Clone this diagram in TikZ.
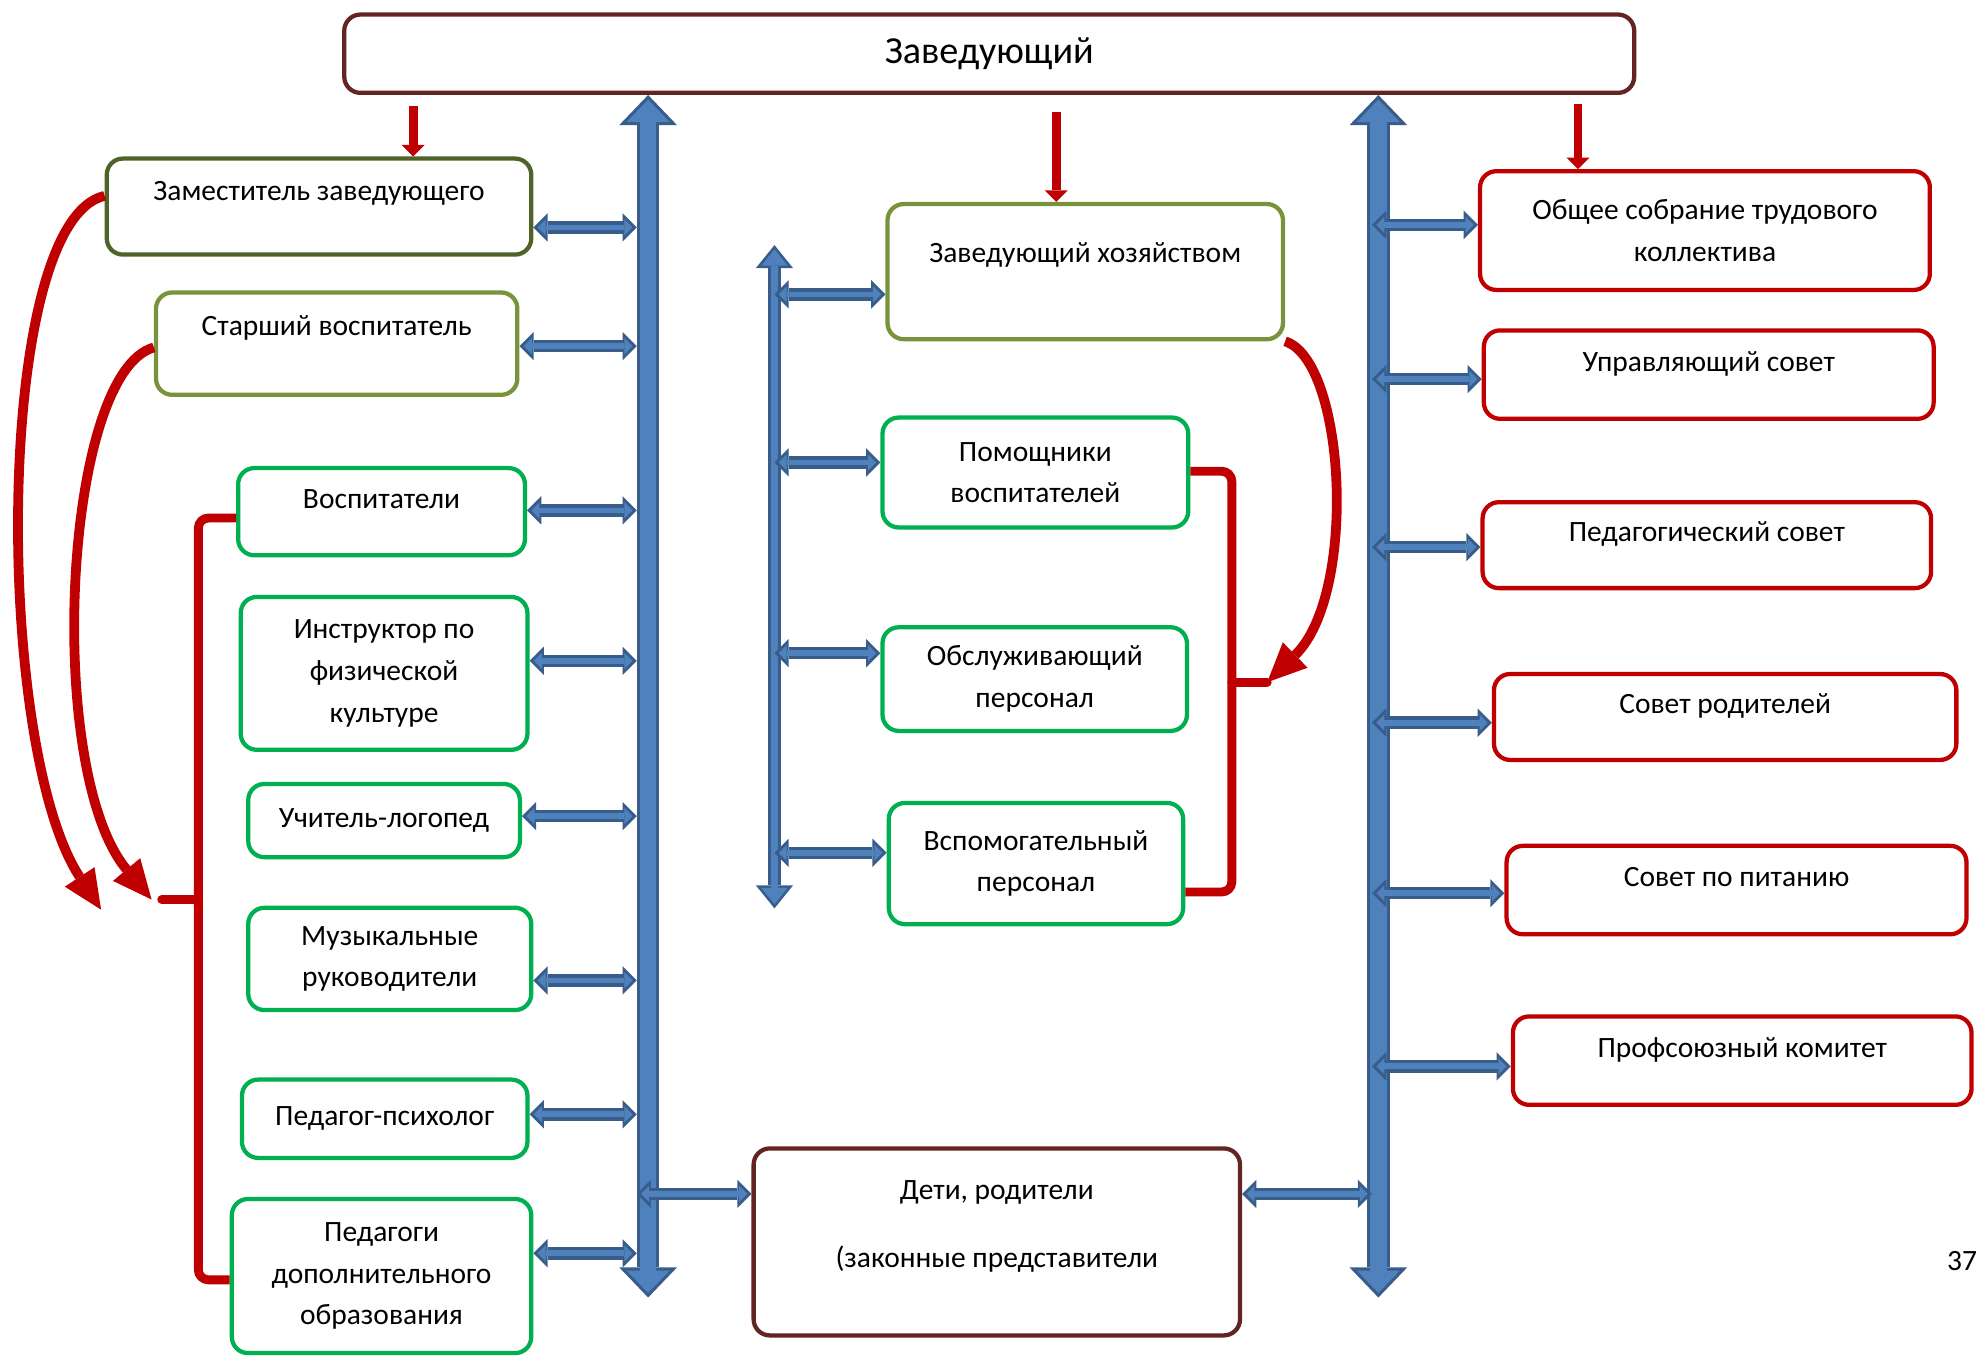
\documentclass[tikz,border=0pt]{standalone}
\usepackage{fontspec}
\setmainfont{Carlito}
\usetikzlibrary{arrows.meta}

\definecolor{headbrown}{HTML}{632523}
\definecolor{olivedk}{HTML}{4F6228}
\definecolor{olivelt}{HTML}{77933C}
\definecolor{staffgreen}{HTML}{00B050}
\definecolor{councilred}{HTML}{C00000}
\definecolor{barfill}{HTML}{4F81BD}
\definecolor{barline}{HTML}{385D8A}

\tikzset{
  boxsize/.style 2 args={minimum width=(#1-3)*0.025cm, minimum height=(#2-3)*0.025cm},
  box/.style={draw, line width=2.4pt, rounded corners=0.32cm, fill=white, align=center,
    inner sep=0pt, font=\fontsize{16.6}{23.4}\selectfont},
  lift/.style={text height=11pt, text depth=#1},
  headbox/.style={box, draw=headbrown},
  deputy/.style={box, draw=olivedk},
  senior/.style={box, draw=olivelt},
  staff/.style={box, draw=staffgreen},
  council/.style={box, draw=councilred},
  spine/.style={draw=barline, line width=12.8pt,
    {Triangle[width=32.6pt,length=17pt,line width=0pt]}-{Triangle[width=32.6pt,length=17pt,line width=0pt]},
    postaction={draw=barfill, line width=9.2pt, shorten <=2.6pt, shorten >=2.6pt,
      {Triangle[width=24.2pt,length=12.6pt,line width=0pt]}-{Triangle[width=24.2pt,length=12.6pt,line width=0pt]}}},
  midspine/.style={draw=barline, line width=7.1pt,
    {Triangle[width=21pt,length=13pt,line width=0pt]}-{Triangle[width=21pt,length=13pt,line width=0pt]},
    postaction={draw=barfill, line width=4.1pt, shorten <=2.4pt, shorten >=2.4pt,
      {Triangle[width=14.7pt,length=9.1pt,line width=0pt]}-{Triangle[width=14.7pt,length=9.1pt,line width=0pt]}}},
  harr/.style={draw=barline, line width=7pt,
    {Triangle[width=16pt,length=8pt,line width=0pt]}-{Triangle[width=16pt,length=8pt,line width=0pt]},
    postaction={draw=barfill, line width=3.2pt, shorten <=2.4pt, shorten >=2.4pt,
      {Triangle[width=9pt,length=4.5pt,line width=0pt]}-{Triangle[width=9pt,length=4.5pt,line width=0pt]}}},
  redarr/.style={draw=councilred, line width=5pt, -{Triangle[width=13pt,length=6.5pt,line width=0pt]}},
  redcurve/.style={draw=councilred, line width=5.5pt, -{Triangle[width=20pt,length=22pt,line width=0pt]}},
  bracket/.style={draw=councilred, line width=5pt, rounded corners=0.2cm}
}

\begin{document}
\begin{tikzpicture}[x=0.025cm, y=-0.025cm]
\useasboundingbox (0,0) rectangle (1568,1074);

% head
\node[headbox, boxsize={1024}{65}] (head) at (783,42.5) {\fontsize{21.5}{25}\selectfont Заведующий};

% left column
\node[deputy, boxsize={339}{79}, lift=17.7pt] (zam) at (252.5,163.5) {Заместитель заведующего};
\node[senior, boxsize={289}{84}, lift=20.5pt] (star) at (266.5,272) {Старший воспитатель};
\node[staff, boxsize={230}{72}, lift=14.8pt] (vosp) at (302,405) {Воспитатели};
\node[staff, boxsize={230}{124}] (instr) at (304,533) {Инструктор по\\физической\\культуре};
\node[staff, boxsize={218}{61}] (logo) at (304,649.5) {Учитель-логопед};
\node[staff, boxsize={227}{84}] (muz) at (308.5,759) {Музыкальные\\руководители};
\node[staff, boxsize={229}{65}] (psih) at (304.5,885.5) {Педагог-психолог};
\node[staff, boxsize={240}{125}] (dop) at (302,1010) {Педагоги\\дополнительного\\образования};

% middle column
\node[senior, boxsize={316}{110}, lift=21.5pt] (zavh) at (859,215) {Заведующий хозяйством};
\node[staff, boxsize={245}{90}] (pom) at (819.5,374) {Помощники\\воспитателей};
\node[staff, boxsize={244}{85}] (obs) at (819,537.5) {Обслуживающий\\персонал};
\node[staff, boxsize={236}{99}] (vsp) at (820,683.5) {Вспомогательный\\персонал};
\node[headbox, boxsize={388}{151}] (deti) at (789,983) {Дети, родители\\[15pt](законные представители\\[-10pt]\strut};

% right column
\node[council, boxsize={359}{97}] (obsh) at (1349.5,182.5) {Общее собрание трудового\\коллектива};
\node[council, boxsize={359}{73}, lift=14.8pt] (upr) at (1352.5,296.5) {Управляющий совет};
\node[council, boxsize={358}{71}, lift=14.8pt] (ped) at (1351,431.5) {Педагогический совет};
\node[council, boxsize={369}{71}, lift=14.8pt] (sovr) at (1365.5,567.5) {Совет родителей};
\node[council, boxsize={367}{73}, lift=14.8pt] (pit) at (1374.5,704.5) {Совет по питанию};
\node[council, boxsize={366}{73}, lift=14.8pt] (prof) at (1379,839.5) {Профсоюзный комитет};

\node[font=\fontsize{16.6}{20}\selectfont] (pg) at (1553,998) {37};

% spines
\coordinate (lsb) at (513,1027);
\coordinate (rsb) at (1091,1027);
\coordinate (mst) at (613,194);
\coordinate (msb) at (613,719);
\draw[spine] (head.south -| lsb) -- (lsb);
\draw[spine] (head.south -| rsb) -- (rsb);
\draw[midspine] (mst) -- (msb);

\coordinate (lsp) at (504,0);
\coordinate (rsp) at (1086,0);

% left links
\draw[harr] (zam.east |- 0,180) -- (lsp |- 0,180);
\draw[harr] (star.east |- 0,274) -- (lsp |- 0,274);
\draw[harr] (vosp.east |- 0,404) -- (lsp |- 0,404);
\draw[harr] (instr.east |- 0,523) -- (lsp |- 0,523);
\draw[harr] (logo.east |- 0,646) -- (lsp |- 0,646);
\draw[harr] (muz.east |- 0,776) -- (lsp |- 0,776);
\draw[harr] (psih.east |- 0,882) -- (lsp |- 0,882);
\draw[harr] (dop.east |- 0,992) -- (lsp |- 0,992);
\draw[harr] (lsp |- 0,945) -- (deti.west |- 0,945);
\draw[harr] (deti.east |- 0,945) -- (rsp |- 0,945);

% middle links
\draw[harr] (mst |- 0,233) -- (zavh.west |- 0,233);
\draw[harr] (mst |- 0,366) -- (pom.west |- 0,366);
\draw[harr] (mst |- 0,517) -- (obs.west |- 0,517);
\draw[harr] (mst |- 0,675) -- (vsp.west |- 0,675);

% right links
\draw[harr] (rsp |- 0,178) -- (obsh.west |- 0,178);
\draw[harr] (rsp |- 0,300) -- (upr.west |- 0,300);
\draw[harr] (rsp |- 0,433) -- (ped.west |- 0,433);
\draw[harr] (rsp |- 0,572) -- (sovr.west |- 0,572);
\draw[harr] (rsp |- 0,707) -- (pit.west |- 0,707);
\draw[harr] (rsp |- 0,844) -- (prof.west |- 0,844);

% red arrows from head
\coordinate (r1) at (327,84);
\coordinate (r2) at (836,89);
\coordinate (r3) at (1249,82);
\draw[redarr] (r1) -- (r1 |- zam.north);
\draw[redarr] (r2) -- (r2 |- zavh.north);
\draw[redarr] (r3) -- (r3 |- obsh.north);

% brackets
\coordinate (lbr) at (128,712);
\coordinate (rbr) at (1003,540);
\draw[bracket] (vosp.west |- 0,410) -- (157,410) -- (157,1013) -- (dop.west |- 0,1013);
\draw[bracket, line cap=round] (157,712) -- (lbr);
\draw[bracket] (pom.east |- 0,373) -- (975,373) -- (975,706) -- (vsp.east |- 0,706);
\draw[bracket, line cap=round] (975,540) -- (rbr);

% curved arrows
\coordinate (tipa) at (80,720);
\coordinate (tipb) at (120,712);
\draw[redcurve] (zam.west |- 0,155) .. controls (-5,175) and (-5,590) .. (tipa);
\draw[redcurve] (star.west |- 0,275) .. controls (50,295) and (35,610) .. (tipb);
\draw[redcurve] (zavh.south east) .. controls (1065,285) and (1075,470) .. (rbr);
\end{tikzpicture}
\end{document}
